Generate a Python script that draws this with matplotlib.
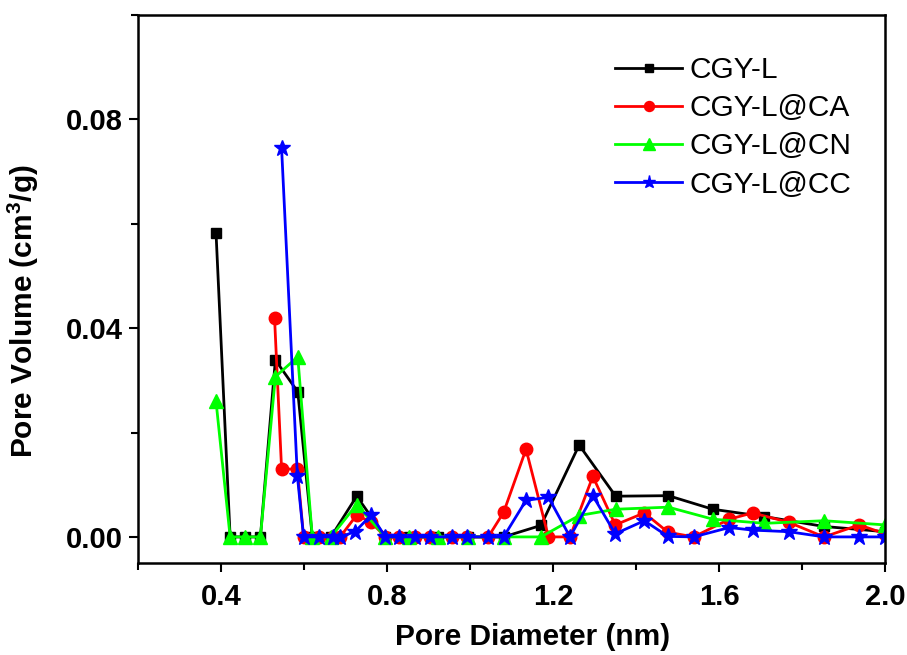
import matplotlib
matplotlib.use("Agg")
import matplotlib.pyplot as plt
from matplotlib.ticker import MultipleLocator, FormatStrFormatter

plt.rcParams["font.family"] = ["Liberation Sans", "DejaVu Sans"]
plt.rcParams["mathtext.default"] = "regular"

# pore widths (nm) for CGY-L and CGY-L@CN
x_a = [0.388, 0.422, 0.458, 0.495, 0.531, 0.585, 0.620, 0.665, 0.727, 0.796,
       0.852, 0.924, 0.996, 1.081, 1.171, 1.263, 1.351, 1.478, 1.585, 1.709,
       1.853, 2.000]
cgy_l = [0.0583, 0.0, 0.0, 0.0, 0.0339, 0.0278, 0.0, 0.0, 0.0078, 0.0,
         0.0, 0.0, 0.0, 0.0, 0.0022, 0.0176, 0.0078, 0.0079, 0.0053, 0.0039,
         0.0020, 0.0010]
cgy_cn = [0.0260, 0.0, 0.0, 0.0, 0.0307, 0.0345, 0.0, 0.0, 0.0062, 0.0,
          0.0, 0.0, 0.0, 0.0, 0.0, 0.0041, 0.0053, 0.0057, 0.0034, 0.0026,
          0.0031, 0.0023]

# pore widths (nm) for CGY-L@CA
x_ca = [0.529, 0.546, 0.584, 0.599, 0.635, 0.671, 0.687, 0.727, 0.762, 0.796,
        0.828, 0.868, 0.904, 0.956, 0.992, 1.044, 1.081, 1.135, 1.189, 1.241,
        1.296, 1.350, 1.420, 1.477, 1.539, 1.625, 1.681, 1.768, 1.853, 1.938,
        2.000]
cgy_ca = [0.0420, 0.0130, 0.0130, 0.0, 0.0, 0.0, 0.0, 0.0042, 0.0028, 0.0,
          0.0, 0.0, 0.0, 0.0, 0.0, 0.0, 0.0047, 0.0168, 0.0, 0.0,
          0.0116, 0.0023, 0.0046, 0.0009, 0.0, 0.0034, 0.0046, 0.0028, 0.0, 0.0023,
          0.0006]

# pore widths (nm) for CGY-L@CC
x_cc = [0.546, 0.584, 0.599, 0.635, 0.671, 0.687, 0.723, 0.762, 0.796,
        0.828, 0.868, 0.904, 0.956, 0.992, 1.044, 1.081, 1.135, 1.189, 1.241,
        1.296, 1.350, 1.420, 1.477, 1.539, 1.625, 1.681, 1.768, 1.853, 1.938,
        2.000]
cgy_cc = [0.0745, 0.0117, 0.0, 0.0, 0.0, 0.0, 0.0010, 0.0042, 0.0,
          0.0, 0.0, 0.0, 0.0, 0.0, 0.0, 0.0, 0.0070, 0.0076, 0.0,
          0.0079, 0.0006, 0.0031, 0.0001, 0.0, 0.0018, 0.0013, 0.0010, 0.0, 0.0,
          0.0]

fig = plt.figure(figsize=(9.07, 6.55), dpi=100)
ax = fig.add_axes([138 / 907, 92 / 655, 747 / 907, 548 / 655])

ax.plot(x_a, cgy_l, color="black", marker="s", markersize=7.5, lw=2, label="CGY-L")
ax.plot(x_ca, cgy_ca, color="red", marker="o", markersize=9, lw=2, label="CGY-L@CA")
ax.plot(x_a, cgy_cn, color="#00ff00", marker="^", markersize=10, lw=2, label="CGY-L@CN")
ax.plot(x_cc, cgy_cc, color="blue", marker="*", markersize=12, lw=2, label="CGY-L@CC")

ax.set_xlim(0.2, 2.0)
ax.set_ylim(-0.005, 0.1)
ax.xaxis.set_major_locator(MultipleLocator(0.4))
ax.xaxis.set_minor_locator(MultipleLocator(0.2))
ax.yaxis.set_major_locator(MultipleLocator(0.04))
ax.yaxis.set_minor_locator(MultipleLocator(0.02))
ax.xaxis.set_major_formatter(FormatStrFormatter("%.1f"))
ax.yaxis.set_major_formatter(FormatStrFormatter("%.2f"))
ax.tick_params(which="both", direction="out", width=1.5, top=False, right=False)
ax.tick_params(which="major", length=6.5, labelsize=21)
ax.tick_params(which="minor", length=5)
ax.tick_params(axis="y", which="major", pad=4.5)
ax.tick_params(axis="x", which="major", pad=8)
for lab in ax.get_xticklabels() + ax.get_yticklabels():
    lab.set_fontweight("bold")
for sp in ax.spines.values():
    sp.set_linewidth(1.8)

ax.set_xlabel("Pore Diameter (nm)", fontsize=21.5, fontweight="bold")
ax.set_ylabel(r"Pore Volume (cm$^3$/g)", fontsize=21.5, fontweight="bold")
ax.xaxis.set_label_coords(0.528, -0.11)
ax.yaxis.set_label_coords(-0.13, 0.46)

ax.legend(loc="upper left", bbox_to_anchor=(0.6386, 0.925), frameon=False,
          fontsize=21.5, handlelength=2.25, handletextpad=0.25, labelspacing=0.34,
          borderpad=0, borderaxespad=0, markerscale=0.8)

fig.savefig("out.png", dpi=100)
